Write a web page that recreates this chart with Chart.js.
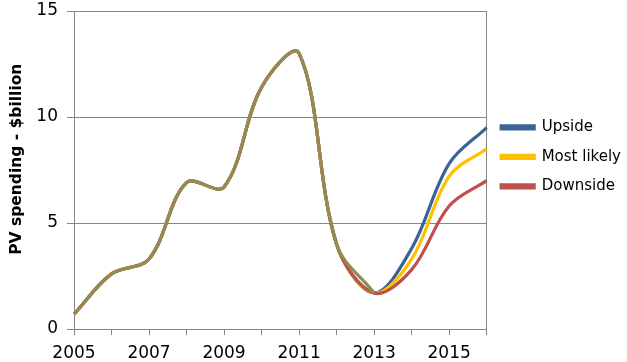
<!DOCTYPE html>
<html>
<head>
  <title>PV spending</title>
  <script src="https://cdn.jsdelivr.net/npm/chart.js"></script>
  <style>
    body { margin: 0; background: white; }
    #wrap { width: 627px; height: 362px; }
  </style>
</head>
<body>
<div id="wrap"><canvas id="pvChart" width="627" height="362"></canvas></div>

<script>
const years = ['2005','2006','2007','2008','2009','2010','2011','2012','2013','2014','2015','2016'];
const history = [0.7, 2.6, 3.3, 6.9, 6.7, 11.4, 13.0, 4.0, 1.7];
const upside = [3.8, 7.8, 9.5];
const mostLikely = [3.3, 7.2, 8.5];
const downside = [2.8, 5.8, 7.0];
const yTicks = [0, 5, 10, 15];

const gray = '#868686';
const font = "'DejaVu Sans', Verdana, sans-serif";

// scenario lines share the history so the curve bends the same way at 2013
function scenario(label, vals, color) {
  return {
    label,
    data: history.concat(vals),
    borderColor: color,
    backgroundColor: color,
    borderWidth: 3.2,
    pointRadius: 0,
    tension: 0.35
  };
}

new Chart(document.getElementById('pvChart'), {
  type: 'line',
  data: {
    labels: years,
    datasets: [
      {
        label: 'History',
        data: history,
        borderColor: '#948A54',
        backgroundColor: '#948A54',
        borderWidth: 3.2,
        pointRadius: 0,
        tension: 0.35
      },
      scenario('Downside', downside, '#C0504D'),
      scenario('Most likely', mostLikely, '#FFC000'),
      scenario('Upside', upside, '#3B6396')
    ]
  },
  options: {
    responsive: false,
    animation: false,
    layout: { autoPadding: false, padding: { top: 11, left: 0, right: -4, bottom: 0 } },
    plugins: {
      tooltip: { enabled: false },
      legend: {
        position: 'right',
        align: 'start',
        title: { display: true, text: '', padding: { top: 80, bottom: 0 } },
        labels: {
          filter: item => item.text !== 'History',
          sort: (a, b) => b.datasetIndex - a.datasetIndex,
          boxWidth: 33,
          boxHeight: 3,
          padding: 14.5,
          color: '#000',
          font: { family: font, size: 15 }
        }
      }
    },
    scales: {
      x: {
        type: 'category',
        afterFit: s => { s.height = 33; },
        border: { display: true, color: gray },
        grid: {
          drawOnChartArea: true,
          color: ctx => ctx.index === years.length - 1 ? gray : 'rgba(0,0,0,0)',
          tickColor: gray,
          tickLength: 6
        },
        ticks: {
          autoSkip: false,
          maxRotation: 0,
          padding: 8,
          color: '#000',
          font: { family: font, size: 17 },
          callback: (v, i) => i % 2 === 0 ? years[i] : ''
        }
      },
      y: {
        min: 0,
        max: 15,
        afterFit: s => {
          s.width = 74;
          s.paddingTop = 0;
          s.paddingBottom = 0;
        },
        afterBuildTicks: s => { s.ticks = yTicks.map(v => ({ value: v })); },
        border: { display: true, color: gray },
        grid: { color: gray, tickColor: gray, tickLength: 7 },
        ticks: {
          padding: 9,
          color: '#000',
          font: { family: font, size: 17 }
        },
        title: {
          display: true,
          text: '    PV spending - $billion',
          color: '#000',
          padding: { top: 8, bottom: 0 },
          font: { family: font, size: 15.5, weight: 'bold' }
        }
      }
    }
  }
});
</script>
</body>
</html>
